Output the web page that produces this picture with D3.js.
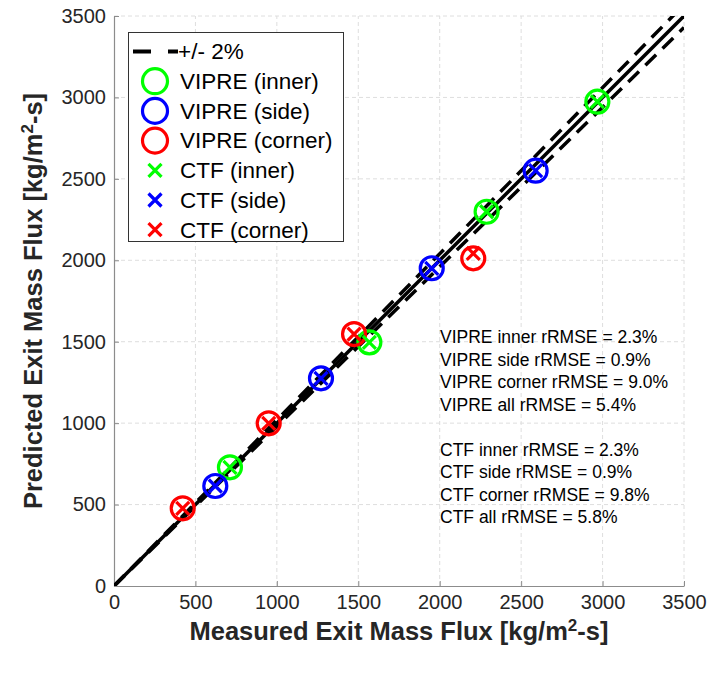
<!DOCTYPE html>
<html>
<head>
<meta charset="utf-8">
<script src="https://cdn.jsdelivr.net/npm/d3@7"></script>
<style>
  body { margin: 0; background: #fff; }
  text { font-family: "Liberation Sans", Arial, Helvetica, sans-serif; }
</style>
</head>
<body>
<svg id="chart" width="717" height="675"></svg>
<script>
// measured vs predicted exit mass flux [kg/m2-s]
const innerMeasured = [712, 1568, 2288, 2968];
const innerVipre = [729, 1496, 2298, 2974];
const innerCtf = [729, 1496, 2298, 2974];

const sideMeasured = [622, 1271, 1951, 2589];
const sideVipre = [614, 1275, 1951, 2550];
const sideCtf = [614, 1275, 1951, 2550];

const cornerMeasured = [422, 950, 1474, 2206];
const cornerVipre = [477, 999, 1547, 2012];
const cornerCtf = [477, 999, 1547, 2042];

const tickValues = [0, 500, 1000, 1500, 2000, 2500, 3000, 3500];
const bandPct = 0.02;

const statLines = [
  "VIPRE inner rRMSE = 2.3%",
  "VIPRE side rRMSE = 0.9%",
  "VIPRE corner rRMSE = 9.0%",
  "VIPRE all rRMSE = 5.4%",
  "",
  "CTF inner rRMSE = 2.3%",
  "CTF side rRMSE = 0.9%",
  "CTF corner rRMSE = 9.8%",
  "CTF all rRMSE = 5.8%"
];

const colors = { inner: "#00ff00", side: "#0000ff", corner: "#ff0000" };

const groups = [
  { key: "inner", x: innerMeasured, vipre: innerVipre, ctf: innerCtf },
  { key: "side", x: sideMeasured, vipre: sideVipre, ctf: sideCtf },
  { key: "corner", x: cornerMeasured, vipre: cornerVipre, ctf: cornerCtf }
];

const margin = { left: 114, top: 16, right: 33, bottom: 89 };
const width = 717, height = 675;

const svg = d3.select("#chart");
svg.append("rect").attr("width", width).attr("height", height).attr("fill", "#fff");

const x = d3.scaleLinear().domain([0, 3500]).range([margin.left, width - margin.right]);
const y = d3.scaleLinear().domain([0, 3500]).range([height - margin.bottom, margin.top]);

// grid
const grid = svg.append("g").attr("stroke", "#dedede").attr("stroke-width", 1)
  .attr("stroke-dasharray", "4,3");
grid.selectAll(".gx").data(tickValues.slice(1)).join("line")
  .attr("x1", d => x(d)).attr("x2", d => x(d))
  .attr("y1", y(0)).attr("y2", y(3500));
grid.selectAll(".gy").data(tickValues.slice(1)).join("line")
  .attr("y1", d => y(d)).attr("y2", d => y(d))
  .attr("x1", x(0)).attr("x2", x(3500));

// axes
const fmt = d3.format("d");
const xAxis = svg.append("g")
  .attr("transform", `translate(0,${y(0)})`)
  .call(d3.axisBottom(x).tickValues(tickValues).tickFormat(fmt)
    .tickSizeInner(-5).tickSizeOuter(0).tickPadding(9));
const yAxis = svg.append("g")
  .attr("transform", `translate(${x(0)},0)`)
  .call(d3.axisLeft(y).tickValues(tickValues).tickFormat(fmt)
    .tickSizeInner(-5).tickSizeOuter(0).tickPadding(8));
[xAxis, yAxis].forEach(a => {
  a.select(".domain").attr("stroke", "#8c8c8c").attr("stroke-width", 1.2);
  a.selectAll(".tick line").attr("stroke", "#8c8c8c");
  a.selectAll(".tick text").attr("fill", "#262626").style("font-size", "20px");
});

// reference lines
svg.append("clipPath").attr("id", "plotclip").append("rect")
  .attr("x", x(0)).attr("y", y(3500))
  .attr("width", x(3500) - x(0)).attr("height", y(0) - y(3500));

const lineGen = d3.line().x(d => x(d[0])).y(d => y(d[1]));
const lines = svg.append("g").attr("clip-path", "url(#plotclip)");
[1 + bandPct, 1 - bandPct].forEach(k => {
  lines.append("path")
    .attr("d", lineGen([[0, 0], [3500, 3500 * k]]))
    .attr("fill", "none").attr("stroke", "#000").attr("stroke-width", 3.5)
    .attr("stroke-dasharray", "15,9");
});
lines.append("path")
  .attr("d", lineGen([[0, 0], [3500, 3500]]))
  .attr("fill", "none").attr("stroke", "#000").attr("stroke-width", 3.5);

// markers
const crossPath = s => `M${-s},${-s}L${s},${s}M${-s},${s}L${s},${-s}`;
const marks = svg.append("g");
groups.forEach(g => {
  marks.selectAll(null).data(g.x.map((v, i) => [v, g.vipre[i]])).join("circle")
    .attr("cx", d => x(d[0])).attr("cy", d => y(d[1])).attr("r", 11.5)
    .attr("fill", "none").attr("stroke", colors[g.key]).attr("stroke-width", 3.2);
});
groups.forEach(g => {
  marks.selectAll(null).data(g.x.map((v, i) => [v, g.ctf[i]])).join("path")
    .attr("transform", d => `translate(${x(d[0])},${y(d[1])})`)
    .attr("d", crossPath(6.5))
    .attr("fill", "none").attr("stroke", colors[g.key]).attr("stroke-width", 3.2);
});

// legend
const legendItems = [
  { label: "+/- 2%", type: "dash" },
  { label: "VIPRE (inner)", type: "circle", key: "inner" },
  { label: "VIPRE (side)", type: "circle", key: "side" },
  { label: "VIPRE (corner)", type: "circle", key: "corner" },
  { label: "CTF (inner)", type: "cross", key: "inner" },
  { label: "CTF (side)", type: "cross", key: "side" },
  { label: "CTF (corner)", type: "cross", key: "corner" }
];
const legend = svg.append("g");
legend.append("rect")
  .attr("x", 128.5).attr("y", 32.5).attr("width", 215).attr("height", 209)
  .attr("fill", "#fff").attr("stroke", "#333").attr("stroke-width", 1);
legendItems.forEach((it, i) => {
  const cy = 51.5 + i * 29.7;
  if (it.type === "dash") {
    legend.append("line").attr("x1", 133).attr("x2", 178).attr("y1", cy).attr("y2", cy)
      .attr("stroke", "#000").attr("stroke-width", 4).attr("stroke-dasharray", "18,17");
  } else if (it.type === "circle") {
    legend.append("circle").attr("cx", 155).attr("cy", cy).attr("r", 12.5)
      .attr("fill", "none").attr("stroke", colors[it.key]).attr("stroke-width", 3.2);
  } else {
    legend.append("path").attr("transform", `translate(155,${cy})`).attr("d", crossPath(6.5))
      .attr("fill", "none").attr("stroke", colors[it.key]).attr("stroke-width", 3.2);
  }
  legend.append("text").attr("x", it.type === "dash" ? 178 : 180).attr("y", cy)
    .attr("dy", "0.35em").attr("fill", "#000").style("font-size", "22.5px").text(it.label);
});

// stats annotation
svg.append("g").selectAll("text").data(statLines).join("text")
  .attr("x", 440).attr("y", (d, i) => 337 + i * 22.5).attr("dy", "0.35em")
  .attr("fill", "#000").style("font-size", "17.5px").text(d => d);

// axis titles
const xTitle = svg.append("text")
  .attr("x", (x(0) + x(3500)) / 2).attr("y", 640).attr("text-anchor", "middle")
  .attr("fill", "#262626").style("font-size", "25.5px").style("font-weight", "bold");
xTitle.append("tspan").text("Measured Exit Mass Flux [kg/m");
xTitle.append("tspan").attr("baseline-shift", "super").style("font-size", "17px").text("2");
xTitle.append("tspan").text("-s]");

const yTitle = svg.append("text")
  .attr("transform", `translate(42,${(y(0) + y(3500)) / 2}) rotate(-90)`)
  .attr("text-anchor", "middle")
  .attr("fill", "#262626").style("font-size", "25.5px").style("font-weight", "bold");
yTitle.append("tspan").text("Predicted Exit Mass Flux [kg/m");
yTitle.append("tspan").attr("baseline-shift", "super").style("font-size", "17px").text("2");
yTitle.append("tspan").text("-s]");
</script>
</body>
</html>
